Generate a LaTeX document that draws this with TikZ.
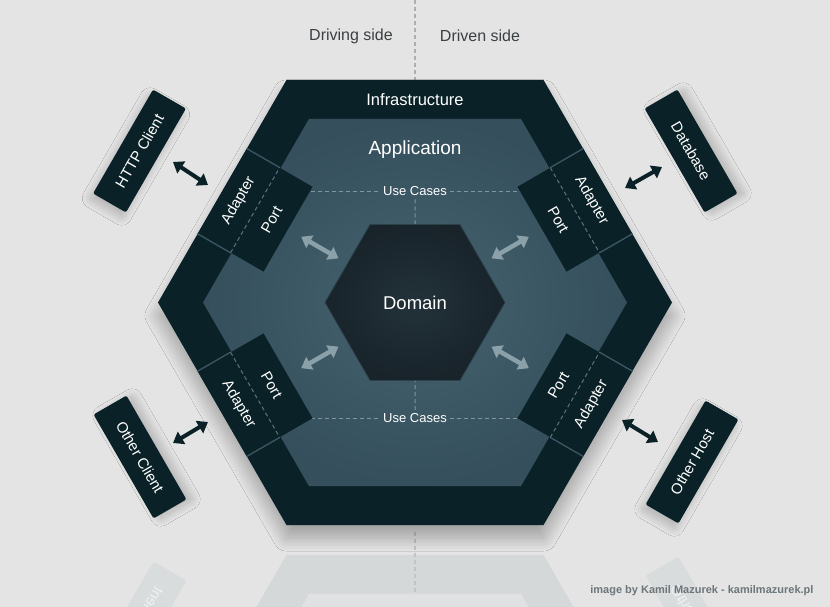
\documentclass[tikz,border=0pt]{standalone}
\usepackage{fontspec}
\setmainfont{Liberation Sans}
\usetikzlibrary{arrows.meta,calc,shapes.geometric,shadows.blur}
\definecolor{bggrey}{HTML}{E4E4E4}
\definecolor{infradark}{HTML}{0A2227}
\definecolor{appouter}{HTML}{354F5C}
\definecolor{appinner}{HTML}{45636F}
\definecolor{domouter}{HTML}{18232A}
\definecolor{dominner}{HTML}{23323A}
\definecolor{domline}{HTML}{2D414B}
\definecolor{bandline}{HTML}{3C5864}
\definecolor{dashblue}{HTML}{7F96A0}
\definecolor{arrowblue}{HTML}{8AA1AA}
\definecolor{sidegrey}{HTML}{3B4043}
\definecolor{axisgrey}{HTML}{A9AFB3}
\definecolor{creditgrey}{HTML}{6C767B}
\definecolor{reflouter}{HTML}{D5D8D9}
\definecolor{reflinner}{HTML}{DFE1E2}
\definecolor{reflbox}{HTML}{D9DCDD}
\begin{document}
\begin{tikzpicture}[x=1pt, y=-1pt,
    portbox/.style={fill=infradark, minimum width=98pt, minimum height=76pt, inner sep=0pt},
    hostbox/.style={fill=infradark, rounded corners=2pt, minimum width=120pt, minimum height=38pt, inner sep=0pt, text=white, font=\fontsize{15}{15}\selectfont},
    shadowA/.style={blur shadow={shadow xshift=-3.5pt, shadow yshift=-5.5pt, shadow blur radius=8pt, shadow blur steps=24, shadow opacity=22}},
    shadowB/.style={blur shadow={shadow xshift=6.5pt, shadow yshift=-0.5pt, shadow blur radius=8pt, shadow blur steps=24, shadow opacity=22}},
    boxtext/.style={text=white, font=\fontsize{15}{15}\selectfont},
    usecase/.style={text=white, font=\fontsize{13}{13}\selectfont, inner sep=3pt},
    sidelabel/.style={text=sidegrey, font=\fontsize{16}{16}\selectfont},
    dashsep/.style={draw=dashblue, dash pattern=on 4pt off 3pt, line width=1pt},
    portdash/.style={draw=dashblue!70!infradark, dash pattern=on 4pt off 3pt, line width=1pt},
    bandsep/.style={draw=bandline, line width=1.3pt},
    inarrow/.style={draw=arrowblue, line width=4.5pt, {Triangle[width=14pt,length=10pt]}-{Triangle[width=14pt,length=10pt]}},
    outarrow/.style={draw=infradark, line width=4pt, {Triangle[width=14pt,length=10pt]}-{Triangle[width=14pt,length=10pt]}}]

% background
\fill[bggrey] (0,0) rectangle (830,607);
\useasboundingbox (0,0) rectangle (830,607);

% mirror image below
\begin{scope}[shift={(0,1080)}, yscale=-1]
  \begin{scope}[shift={(415,302.5)}]
    \fill[reflouter] (0:257) -- (60:257) -- (120:257) -- (180:257) -- (240:257) -- (300:257) -- cycle;
    \fill[reflinner] (0:212) -- (60:212) -- (120:212) -- (180:212) -- (240:212) -- (300:212) -- cycle;
  \end{scope}
  \node[hostbox, fill=reflbox, text=white!60!reflbox, rotate=-60, transform shape] (oclientRefl) at (140,457) {Other Client};
  \node[hostbox, fill=reflbox, text=white!60!reflbox, rotate=60, transform shape] (ohostRefl) at (692,462) {Other Host};
\end{scope}

% driving / driven
\draw[draw=axisgrey, dash pattern=on 4pt off 3pt, line width=1.2pt] (415,0) -- (415,80);
\draw[draw=axisgrey!60!bggrey, dash pattern=on 4pt off 3pt, line width=1.2pt] (415,532) -- (415,595);
\node[sidelabel] (driving) at (351,36) {Driving side};
\node[sidelabel] (driven) at (480,36) {Driven side};

% hexagons
\begin{scope}[shift={(415,302.5)}]
  \fill[infradark, blur shadow={shadow xshift=0pt, shadow yshift=-13pt, shadow blur radius=13pt, shadow blur steps=30, shadow opacity=30}]
    (0:257) -- (60:257) -- (120:257) -- (180:257) -- (240:257) -- (300:257) -- cycle;
  \shade[inner color=appinner, outer color=appouter]
    (0:212) -- (60:212) -- (120:212) -- (180:212) -- (240:212) -- (300:212) -- cycle;
  \node[text=white, font=\fontsize{16.5}{17}\selectfont] (infra) at (0,-202.5) {Infrastructure};
  \node[text=white, font=\fontsize{19}{19}\selectfont] (app) at (0,-152.5) {Application};
  \node[regular polygon, regular polygon sides=6, minimum size=180pt, inner sep=0pt, shade,
        inner color=dominner, outer color=domouter, draw=domline, line width=0.8pt,
        text=white, font=\fontsize{18.5}{19}\selectfont] (dom) at (0,0) {Domain};
  \node[usecase] (ucTop) at (0,-111) {Use Cases};
  \node[usecase] (ucBot) at (0,115.5) {Use Cases};

  \coordinate (ulc) at (210:184.6);
  \coordinate (urc) at (330:184.6);
  \coordinate (llc) at (150:184.6);
  \coordinate (lrc) at (30:184.6);
  \draw[dashsep] (ulc |- ucTop) -- (ucTop.west);
  \draw[dashsep] (ucTop.east) -- (urc |- ucTop);
  \draw[dashsep] (ucTop.south) -- (dom.north);
  \draw[dashsep] (llc |- ucBot) -- (ucBot.west);
  \draw[dashsep] (ucBot.east) -- (lrc |- ucBot);
  \draw[dashsep] (ucBot.north) -- (dom.south);

  % ports and adapters
  \node[portbox, rotate=60] (ul) at (ulc) {};
  \node[portbox, rotate=-60] (ur) at (urc) {};
  \node[portbox, rotate=-60] (ll) at (llc) {};
  \node[portbox, rotate=60] (lr) at (lrc) {};
  \draw[bandsep] (ul.north west) -- (ul.west) (ul.north east) -- (ul.east);
  \draw[bandsep] (ur.north west) -- (ur.west) (ur.north east) -- (ur.east);
  \draw[bandsep] (ll.south west) -- (ll.west) (ll.south east) -- (ll.east);
  \draw[bandsep] (lr.south west) -- (lr.west) (lr.south east) -- (lr.east);
  \foreach \b in {ul,ur,ll,lr}
    \draw[portdash] (\b.west) -- (\b.east);
  \node[boxtext, rotate=60] (ulAd) at ($(ul)!0.5!(ul.north)$) {Adapter};
  \node[boxtext, rotate=60] (ulPo) at ($(ul)!0.5!(ul.south)$) {Port};
  \node[boxtext, rotate=-60] (urAd) at ($(ur)!0.5!(ur.north)$) {Adapter};
  \node[boxtext, rotate=-60] (urPo) at ($(ur)!0.5!(ur.south)$) {Port};
  \node[boxtext, rotate=-60] (llAd) at ($(ll)!0.5!(ll.south)$) {Adapter};
  \node[boxtext, rotate=-60] (llPo) at ($(ll)!0.5!(ll.north)$) {Port};
  \node[boxtext, rotate=60] (lrAd) at ($(lr)!0.5!(lr.south)$) {Adapter};
  \node[boxtext, rotate=60] (lrPo) at ($(lr)!0.5!(lr.north)$) {Port};

  % ports to domain
  \draw[inarrow, shorten <=15pt, shorten >=10pt] (ul.south) -- (dom);
  \draw[inarrow, shorten <=15pt, shorten >=10pt] (ur.south) -- (dom);
  \draw[inarrow, shorten <=15pt, shorten >=10pt] (ll.north) -- (dom);
  \draw[inarrow, shorten <=15pt, shorten >=10pt] (lr.north) -- (dom);
\end{scope}

% actors
\node[hostbox, shadowA, rotate=60] (http) at (139.5,151) {HTTP Client};
\node[hostbox, shadowB, rotate=-60] (db) at (691,151) {Database};
\node[hostbox, shadowB, rotate=-60] (oclient) at (140,457) {Other Client};
\node[hostbox, shadowA, rotate=60] (ohost) at (692,462) {Other Host};

\coordinate (httpEnd) at (173,162);  \coordinate (ulEnd) at (208,185);
\coordinate (dbEnd) at (662,167);    \coordinate (urEnd) at (625,188);
\coordinate (ocEnd) at (173,443);    \coordinate (llEnd) at (208,422);
\coordinate (ohEnd) at (658,442);    \coordinate (lrEnd) at (622,420);
\draw[outarrow] (httpEnd) -- (ulEnd);
\draw[outarrow] (dbEnd) -- (urEnd);
\draw[outarrow] (ocEnd) -- (llEnd);
\draw[outarrow] (ohEnd) -- (lrEnd);

\node[text=creditgrey, font=\bfseries\fontsize{11}{11}\selectfont, anchor=east] (credit) at (817,591) {image by Kamil Mazurek - kamilmazurek.pl};
\end{tikzpicture}
\end{document}
